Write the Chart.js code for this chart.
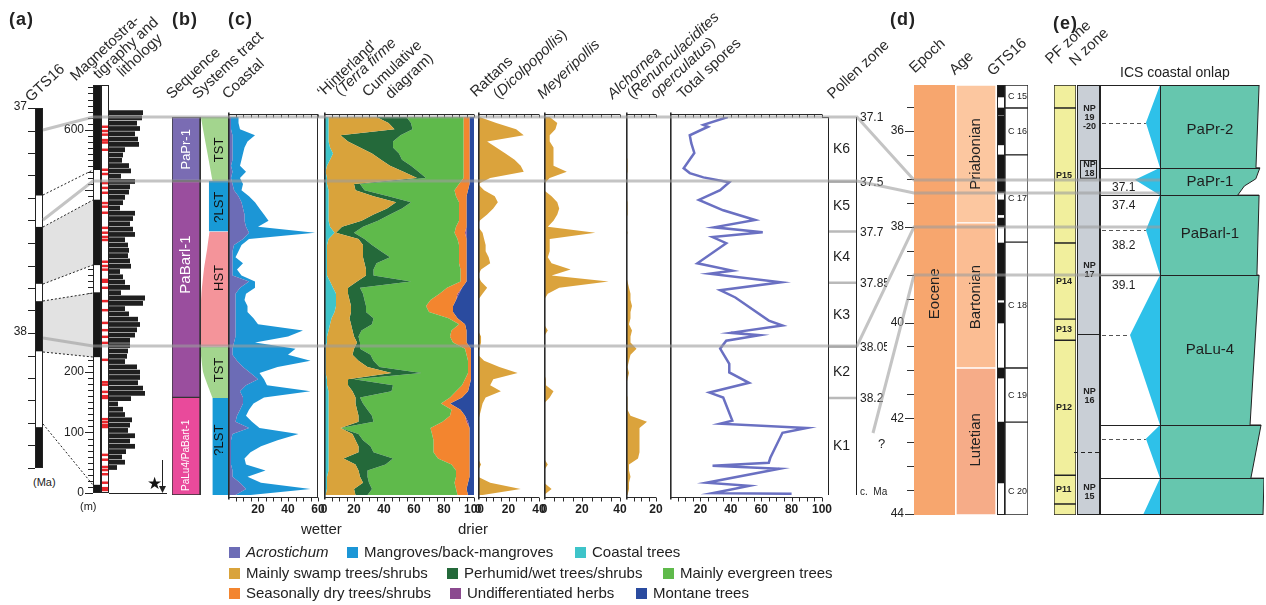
<!DOCTYPE html>
<html>
<head>
<meta charset="utf-8">
<title>Palynological record</title>
<script src="https://cdn.jsdelivr.net/npm/chart.js@4.4.1/dist/chart.umd.min.js"></script>
<style>
  html, body { margin: 0; padding: 0; background: #fff; }
  #stage { position: relative; width: 1266px; height: 605px; overflow: hidden; font-family: Arial, "Liberation Sans", sans-serif; color: #222; }
  #stage div { position: absolute; white-space: nowrap; color: #222; }
  .sw { display: inline-block; width: 11px; height: 11px; margin-right: 6px; vertical-align: -1px; }
</style>
</head>
<body>
<div id="stage">
<svg width="1266" height="605" style="position:absolute;left:0;top:0;z-index:5;pointer-events:none">
  <polygon points="43,227 93,200 93,265 43,284" fill="#e2e2e2"/>
  <polygon points="43,301 93,293 93,357 43,352" fill="#e2e2e2"/>
  <g stroke="#222" stroke-width="1" stroke-dasharray="2 2" fill="none">
    <line x1="43" y1="195" x2="93" y2="170"/>
    <line x1="43" y1="227" x2="93" y2="200"/>
    <line x1="43" y1="284" x2="93" y2="265"/>
    <line x1="43" y1="301" x2="93" y2="293"/>
    <line x1="43" y1="352" x2="93" y2="357"/>
    <line x1="43" y1="424" x2="93" y2="485"/>
  </g>
  <g stroke="#9c9c9c" stroke-opacity="0.6" stroke-width="3" fill="none">
    <polyline points="43,130 93,117 857,117 914,180 1160,180"/>
    <polyline points="43,220 93,181 857,181 914,193 1160,193"/>
    <polyline points="43,338 93,346 857,346 914,227 1160,227"/>
    <polyline points="873,433 914,275 1160,275"/>
  </g>
  <line x1="109" y1="493.5" x2="167" y2="493.5" stroke="#222" stroke-width="1"/>
  <line x1="162.5" y1="460" x2="162.5" y2="488" stroke="#222" stroke-width="1"/>
  <polygon points="159,486 166,486 162.5,493" fill="#222"/>
  <text x="147" y="489" font-size="17" fill="#111">★</text>
</svg>
</div>
<script>
// ---------------- panel (c): pollen diagram, depth in metres ----------------
const DEPTH = [620,610,600,590,580,570,560,550,540,530,520,510,500,490,480,470,460,450,440,430,420,410,400,390,380,370,360,350,340,330,320,310,300,290,280,270,260,250,240,230,220,210,200,190,180,170,160,150,140,130,120,110,100,90,80,70,60,50,40,30,20,10,0];

// Coastal (%)
const ACROSTICHUM = [2,2,2,3,3,3,3,3,2,3, 2,3,4,7,9,10,11,11,12,14, 10,4,3,3,3,3,3,14,8,5, 5,5,5,5,5,5,5,4,3,3, 6,10,15,20,12,8,10,10,8,6, 5,14,3,2,2,2,2,2,3,3, 8,12,5];
const MANGROVES   = [5,5,6,15,10,8,7,6,6,9, 6,7,5,7,9,11,13,16,8,44, 4,5,4,2,7,3,6,4,10,7, 6,8,8,12,15,45,35,14,42,37, 49,23,6,4,14,47,14,7,6,6, 11,7,44,31,20,13,9,10,22,10, 14,43,10];

// 'Hinterland' cumulative diagram (%)
const COASTAL_TREES = [3,3,3,3,3,4,6,4,2,1, 2,2,3,3,3,3,3,3,4,7, 3,2,2,2,2,2,2,4,6,8, 8,8,7,5,4,3,2,2,1,1, 1,1,1,2,2,3,3,3,3,3, 3,3,3,3,3,3,3,3,3,2, 2,2,1];
const SWAMP     = [32,40,44,8,13,20,26,34,42,52, 60,18,18,30,45,39,30,22,8,1, 20,24,24,24,25,26,26,18,10,8, 9,10,11,12,14,16,18,20,19,18, 22,28,44,14,14,16,18,18,19,20, 20,8,16,18,20,20,10,18,20,22, 24,18,20];
const PERHUMID  = [20,15,12,40,30,22,18,14,14,10, 6,4,6,10,10,10,11,11,14,12, 4,6,12,18,8,5,5,36,8,10, 10,10,10,16,14,6,3,2,4,12, 10,8,20,4,30,26,3,5,7,9, 10,0,4,5,8,10,33,20,6,5, 4,12,8];
const EVERGREEN = [38,35,34,42,47,47,43,41,35,30, 25,66,60,45,32,38,46,54,62,67, 62,58,52,46,55,58,58,33,58,51, 44,40,42,50,58,60,61,62,70,64, 63,59,31,74,46,43,60,52,56,52, 46,60,49,47,42,40,30,44,59,59, 57,56,60];
const SEASONAL  = [4,4,4,4,4,4,4,4,4,4, 4,7,9,7,5,5,5,5,7,7, 6,5,5,5,5,4,4,4,10,12, 17,18,16,6,4,10,11,9,4,3, 2,2,2,4,5,8,8,6,6,10, 16,26,25,24,24,24,21,12,9,9, 9,7,7];
const HERBS     = [0,0,0,0,0,0,0,0,0,0, 0,0,0,0,0,0,0,0,0,1, 0,0,0,0,0,0,0,0,0,1, 0,0,0,0,0,0,0,0,0,0, 0,0,0,0,0,0,0,0,0,0, 1,0,0,0,0,0,0,0,0,0, 0,0,0];
const MONTANE   = [3,3,3,3,3,3,3,3,3,3, 3,3,4,5,5,5,5,5,5,5, 5,5,5,5,5,5,5,5,8,10, 12,14,14,11,6,5,5,5,2,2, 2,2,2,2,3,4,8,16,9,6, 4,3,3,3,3,3,3,3,3,3, 4,5,4];

// single taxa (%)
const RATTANS      = [1,12,25,30,6,12,18,24,28,30, 8,0,4,11,13,10,6,1,0,3, 4,5,5,7,8,2,0,2,6,3, 0,0,0,0,0,0,2,2,1,0, 4,14,26,10,8,15,5,3,2,1, 0,0,0,0,0,0,0,2,0,0, 8,28,3];
const MEYERIPOLLIS = [3,7,6,3,3,5,5,5,5,12, 3,0,0,4,7,8,7,5,2,27, 3,3,3,2,4,14,4,34,8,2, 0,0,0,0,0,2,0,0,0,0, 0,0,0,1,1,5,3,0,0,0, 0,0,0,0,0,0,0,2,0,0, 0,4,0];
const ALCHORNEA    = [0,0,0,0,0,0,0,1,1,1, 0,0,0,0,1,1,1,0,0,1, 0,0,0,0,0,0,0,1,2,3, 3,4,3,3,2,4,3,3,7,3, 2,1,2,1,0,0,1,1,1,3, 14,9,9,9,9,9,8,2,2,3, 2,2,1];

// total spores (%), own sample depths
const SPORE_DEPTH = [620,607,604,590,577,561,536,528,521,513,500,484,467,451,439,431,423,413,380,368,363,349,336,324,286,278,266,262,253,240,215,201,184,168,160,122,117,110,102,61,53,48,43,20,15,3,2];
const SPORES      = [38,22,25,13,14,16,9,13,22,39,33,19,35,56,29,61,28,37,18,41,26,73,33,43,65,74,40,59,37,33,39,39,52,26,35,41,33,90,74,66,65,28,72,24,52,28,80];

// ---------------- panel (a) ----------------
const GTS_A_NORMAL = [[37.0,37.387],[37.53,37.78],[37.86,38.08],[38.42,38.6]];      // Ma
const MAG_NORMAL   = [[534,674],[377,484],[225,331],[0,13]];                        // m
const SAMPLE_DEPTH = [605,598,592,583,579,567,534,527,512,504,496,479,473,463,438,430,423,418,382,375,369,352,349,339,317,302,281,269,258,248,220,183,179,167,160,157,122,117,112,109,63,55,43,38,31,17,8,5];
const LITHO_DEPTH  = [670,660,650,640,630,620,610,600,590,580,570,560,550,540,530,520,510,500,490,480,470,460,450,440,430,420,410,400,390,380,370,360,350,340,330,320,310,300,290,280,270,260,250,240,230,220,210,200,190,180,170,160,150,140,130,120,110,100,90,80,70,60,50,40,30,20,10,0];
const LITHO        = [34,33,28,31,26,29,30,16,14,13,20,22,12,26,21,20,16,14,11,26,24,21,24,26,16,19,20,19,21,22,11,14,16,21,12,36,34,16,20,29,31,28,26,21,21,19,18,16,28,31,31,29,34,36,22,9,14,16,23,21,19,26,21,26,17,13,16,8];

// ---------------- panel (b) ----------------
const SEQ_NAMES = ['PaPr-1','PaBarl-1','PaLu4/PaBart-1'];
const SEQ_TOP   = [620,515,160];
const SEQ_BASE  = [515,160,0];
const TRACTS    = ['TST','?LST','HST','TST','?LST'];
const TRACT_EDGES = [                      // [depth, left edge of fill as column fraction]
  [[620,0.03],[515,0.45]],
  [[515,0.32],[432,0.32]],
  [[432,0.34],[405,0.26],[370,0.14],[330,0.05],[290,0.01],[243,0]],
  [[243,0],[200,0.12],[159,0.45]],
  [[159,0.45],[0,0.45]]
];
const TRACT_LABEL_DEPTH = [566,472,356,205,90];

// pollen zones
const ZONE_NAMES = ['K6','K5','K4','K3','K2','K1'];
const ZONE_TOP   = [620,514,432,348,243,159];
const ZONE_BASE  = [514,432,348,243,159,0];
const ZONE_AGE   = ['37.1','37.5','37.7','37.85','38.05','38.2'];

// ---------------- panel (d), ages in Ma ----------------
const AGE_NAMES = ['Priabonian','Bartonian','Lutetian'];
const AGE_TOP   = [35.04,37.92,40.95];
const AGE_BASE  = [37.92,40.95,44.02];
const POLARITY_NORMAL = [[35.04,35.29],[35.52,35.67],[35.69,36.29],[36.50,37.29],[37.44,37.75],[37.82,38.0],[38.34,39.53],[39.59,40.01],[40.95,41.16],[42.08,43.35]];
const CHRON_NAMES = ['C 15','C 16','C 17','C 18','C 19','C 20'];
const CHRON_TOP   = [35.04,35.52,36.50,38.32,40.95,42.08];
const CHRON_BASE  = [35.52,36.50,38.32,40.95,42.08,44.02];
const CHRON_LABEL_AGE = [35.29,36.01,37.41,39.64,41.52,43.54];

// ---------------- panel (e) ----------------
const PF_NAMES = ['','P15','P14','P13','P12','P11',''];
const PF_TOP   = [35.04,35.52,38.34,39.93,40.37,43.19,43.79];
const PF_BASE  = [35.52,38.34,39.93,40.37,43.19,43.79,44.02];
const NP_NAMES = ['NP\n19\n-20','NP\n18','NP\n17','NP\n16','NP\n15'];
const NP_TOP   = [35.04,36.61,36.98,40.24,42.71];
const NP_BASE  = [36.61,36.98,40.24,42.71,44.02];
const NP_LABEL_AGE = [35.72,36.79,38.9,41.53,43.55];
const ONLAP_AGE = [35.04,35.83,36.77,37.02,37.34,38.07,39.01,40.26,42.14,42.43,43.25,44.02];
const ONLAP_X   = [36.6,28,36.6,21.3,36.6,28,36.6,18.3,36.6,28,36.6,26.2];
const SHELF_AGE = [35.04,36.77,36.77,37.0,37.15,37.34,37.34,39.01,39.01,42.14,42.14,43.25,43.25,44.02];
const SHELF_X   = [97,95.1,97.5,95,88,84,97,95.7,97,91.5,98.2,92,100,99.4];
const CYCLE_BOUNDS = [36.77,37.34,39.01,42.14,43.25];
const CYCLE_NAMES = ['PaPr-2','PaPr-1','PaBarl-1','PaLu-4'];
const CYCLE_LABEL_AGE = [35.98,37.07,38.15,40.57];
const ONLAP_NOTES = ['37.1','37.4','38.2','39.1'];
const ONLAP_NOTE_AGE = [37.19,37.55,38.4,39.24];

const C = {
  acro: '#6c6cb6', mang: '#1c96d6', coast: '#3ec4c9', swamp: '#d9a33b', wet: '#24693a',
  ever: '#5fba4b', dry: '#f3852f', herbs: '#8b4a8f', mont: '#2a4b9f', taxon: '#dba33c', spores: '#6a70c2'
};

Chart.defaults.font.family = 'Arial, "Liberation Sans", sans-serif';
const stage = document.getElementById('stage');
const lin = (min, max, more) => Object.assign({type: 'linear', display: false, min, max}, more || {});

function mk(x, y, w, h, cfg, pad) {
  pad = Object.assign({l: 0, r: 0, t: 0, b: 0}, pad || {});
  const cv = document.createElement('canvas');
  const W = w + pad.l + pad.r, H = h + pad.t + pad.b;
  cv.width = W; cv.height = H;
  cv.style.position = 'absolute';
  cv.style.left = (x - pad.l) + 'px';
  cv.style.top = (y - pad.t) + 'px';
  stage.appendChild(cv);
  const o = cfg.options || (cfg.options = {});
  o.responsive = false;
  o.animation = false;
  o.events = [];
  o.layout = {padding: {left: pad.l, right: pad.r, top: pad.t, bottom: pad.b}};
  o.plugins = Object.assign({legend: {display: false}, tooltip: {enabled: false}}, o.plugins || {});
  return new Chart(cv, cfg);
}

function lab(html, x, y, css) {
  const d = document.createElement('div');
  d.innerHTML = html;
  d.style.cssText = 'left:' + x + 'px;top:' + y + 'px;' + (css || '');
  stage.appendChild(d);
  return d;
}

function multi(ctx, s, x, y, lh) {
  const lines = s.split('\n');
  lines.forEach((t, i) => ctx.fillText(t, x, y + (i - (lines.length - 1) / 2) * lh));
}

// axes of the pollen curves: top minor ticks, bottom ticks + labels, left axis
function pollenAxes(step, labels, right) {
  return {
    id: 'pollenAxes',
    afterDraw(ch) {
      const {ctx, chartArea: a} = ch, sx = ch.scales.x;
      const top = a.top - 2.5, bot = a.bottom + 2.5;
      ctx.save();
      ctx.strokeStyle = '#2a2a2a';
      ctx.lineWidth = 1;
      ctx.beginPath();
      ctx.moveTo(a.left, top); ctx.lineTo(a.right, top);
      ctx.moveTo(a.left, bot); ctx.lineTo(a.right, bot);
      for (let v = step; v <= sx.max + 1e-9; v += step) {
        const x = Math.round(sx.getPixelForValue(v)) + 0.5;
        ctx.moveTo(x, top); ctx.lineTo(x, top + 3);
        ctx.moveTo(x, bot); ctx.lineTo(x, bot + 4);
      }
      if (right) { ctx.moveTo(a.right - 0.5, top); ctx.lineTo(a.right - 0.5, bot); }
      ctx.stroke();
      ctx.lineWidth = 1.6;
      ctx.beginPath();
      ctx.moveTo(a.left + 0.8, top - 2); ctx.lineTo(a.left + 0.8, bot + 2);
      ctx.stroke();
      ctx.fillStyle = '#1e1e1e';
      ctx.font = 'bold 12px Arial';
      ctx.textAlign = 'center';
      ctx.textBaseline = 'middle';
      labels.forEach(v => ctx.fillText(String(v), sx.getPixelForValue(v), bot + 12));
      ctx.restore();
    }
  };
}

function areaPanel(x, w, max, series, labels, right) {
  const datasets = series.map((s, i) => ({
    label: s.name,
    data: DEPTH.map((d, k) => ({x: s.values[k], y: d})),
    backgroundColor: s.color, borderColor: s.color, borderWidth: 0,
    pointRadius: 0, tension: 0, fill: i === 0 ? 'origin' : '-1'
  }));
  return mk(x, 117, w, 378, {
    type: 'line',
    data: {datasets},
    options: {indexAxis: 'y', scales: {x: lin(0, max, {stacked: true}), y: lin(0, 620)}},
    plugins: [pollenAxes(5, labels, right)]
  }, {l: 8, r: 12, t: 6, b: 22});
}

const COASTAL_SERIES = [
  {name: 'Acrostichum', values: ACROSTICHUM, color: C.acro, italic: true},
  {name: 'Mangroves/back-mangroves', values: MANGROVES, color: C.mang}
];
const HINTER_SERIES = [
  {name: 'Coastal trees', values: COASTAL_TREES, color: C.coast},
  {name: 'Mainly swamp trees/shrubs', values: SWAMP, color: C.swamp},
  {name: 'Perhumid/wet trees/shrubs', values: PERHUMID, color: C.wet},
  {name: 'Mainly evergreen trees', values: EVERGREEN, color: C.ever},
  {name: 'Seasonally dry trees/shrubs', values: SEASONAL, color: C.dry},
  {name: 'Undifferentiated herbs', values: HERBS, color: C.herbs},
  {name: 'Montane trees', values: MONTANE, color: C.mont}
];

areaPanel(228, 90, 60, COASTAL_SERIES, [20, 40, 60], true);
areaPanel(324, 150, 100, HINTER_SERIES, [0, 20, 40, 60, 80, 100]);
areaPanel(478, 61, 40, [{name: 'Rattans', values: RATTANS, color: C.taxon}], [0, 20, 40]);
areaPanel(544, 76, 40, [{name: 'Meyeripollis', values: MEYERIPOLLIS, color: C.taxon}], [0, 20, 40]);
areaPanel(626, 30, 20, [{name: 'Alchornea', values: ALCHORNEA, color: C.taxon}], [20]);

mk(670, 117, 152, 378, {
  type: 'scatter',
  data: {datasets: [{label: 'Total spores', data: SPORE_DEPTH.map((d, i) => ({x: SPORES[i], y: d})),
    showLine: true, borderColor: C.spores, borderWidth: 2.5, pointRadius: 0, tension: 0}]},
  options: {scales: {x: lin(0, 100), y: lin(0, 620)}},
  plugins: [pollenAxes(5, [20, 40, 60, 80, 100])]
}, {l: 8, r: 12, t: 6, b: 22});

// ---------------- generic column of floating bars ----------------
function column(x, y, w, h, ymin, ymax, reverse, sets, deco, pad, labels) {
  const cats = labels || ['c'];
  return mk(x, y, w, h, {
    type: 'bar',
    data: {
      labels: cats,
      datasets: sets.map(s => ({
        data: s.segs.map(g => ({x: s.cat || cats[0], y: g})),
        backgroundColor: s.color, borderColor: s.border || s.color, borderWidth: s.bw || 0,
        borderSkipped: false, grouped: false, barPercentage: 1, categoryPercentage: 1
      }))
    },
    options: {scales: {x: {type: 'category', offset: true, display: false}, y: lin(ymin, ymax, {reverse})}},
    plugins: deco ? [deco] : []
  }, pad);
}

function outline(ctx, a) {
  ctx.strokeStyle = '#222'; ctx.lineWidth = 1;
  ctx.strokeRect(a.left + 0.5, a.top + 0.5, a.right - a.left - 1, a.bottom - a.top - 1);
}

function rotText(ctx, s, x, y, font, color) {
  ctx.save();
  ctx.translate(x, y); ctx.rotate(-Math.PI / 2);
  ctx.font = font; ctx.fillStyle = color; ctx.textAlign = 'center'; ctx.textBaseline = 'middle';
  ctx.fillText(s, 0, 0);
  ctx.restore();
}

// ---- (a) GTS16 column with age ticks ----
column(35, 108, 8, 360, 37.0, 38.6, true, [{segs: GTS_A_NORMAL, color: '#161616'}], {
  id: 'gtsA',
  afterDraw(ch) {
    const {ctx, chartArea: a} = ch, sy = ch.scales.y;
    ctx.save(); outline(ctx, a);
    ctx.beginPath();
    for (let k = 0; k <= 16; k++) {
      const yy = Math.round(sy.getPixelForValue(37 + k / 10)) + 0.5;
      ctx.moveTo(a.left - 7, yy); ctx.lineTo(a.left, yy);
    }
    ctx.stroke();
    ctx.font = '12px Arial'; ctx.fillStyle = '#222'; ctx.textAlign = 'right'; ctx.textBaseline = 'middle';
    [37, 38].forEach(v => ctx.fillText(String(v), a.left - 8, sy.getPixelForValue(v) - 1));
    ctx.restore();
  }
}, {l: 30, t: 8, b: 4});

// ---- (a) magnetostratigraphy + sample column with depth axis ----
column(93, 85, 16, 408, 0, 674, false, [
  {segs: MAG_NORMAL, color: '#161616', cat: 'mag'},
  {segs: SAMPLE_DEPTH.map(d => [d - 1.5, d + 1.5]), color: '#e8262b', cat: 'smp'}
], {
  id: 'lithAxis',
  afterDraw(ch) {
    const {ctx, chartArea: a} = ch, sy = ch.scales.y;
    const mid = (a.left + a.right) / 2;
    ctx.save();
    ctx.strokeStyle = '#222'; ctx.lineWidth = 1;
    ctx.strokeRect(a.left + 0.5, a.top + 0.5, mid - a.left - 1, a.bottom - a.top - 1);
    ctx.strokeRect(mid + 0.5, a.top + 0.5, a.right - mid - 1, a.bottom - a.top - 1);
    ctx.beginPath();
    for (let d = 0; d <= 670; d += 10) {
      const yy = Math.round(sy.getPixelForValue(d)) + 0.5;
      ctx.moveTo(a.left - (d % 100 === 0 ? 8 : 5), yy); ctx.lineTo(a.left, yy);
    }
    ctx.stroke();
    ctx.font = '12px Arial'; ctx.fillStyle = '#222'; ctx.textAlign = 'right'; ctx.textBaseline = 'middle';
    [0, 100, 200, 300, 400, 600].forEach(d => ctx.fillText(String(d), a.left - 9, sy.getPixelForValue(d)));
    ctx.restore();
  }
}, {l: 30, t: 2, b: 8}, ['mag', 'smp']);

// ---- (a) lithology log ----
mk(109, 85, 36, 408, {
  type: 'bar',
  data: {datasets: [{label: 'Lithology', data: LITHO_DEPTH.map((d, i) => ({x: LITHO[i], y: d})),
    backgroundColor: '#1f1f1f', barPercentage: 0.9, categoryPercentage: 1}]},
  options: {indexAxis: 'y', scales: {x: lin(0, 36), y: lin(0, 674)}}
});

// ---- (b) sequences ----
column(172, 117, 28, 378, 0, 620, false,
  [{segs: SEQ_TOP.map((t, i) => [SEQ_BASE[i], t]), color: ['#7a6cb3', '#9a4e9e', '#e94a9b'], border: '#333', bw: 1}], {
  id: 'seq',
  afterDraw(ch) {
    const {ctx, chartArea: a} = ch, sy = ch.scales.y;
    const fonts = ['13px Arial', '15px Arial', '10px Arial'];
    const at = [567, 378, 65];
    SEQ_NAMES.forEach((n, i) => rotText(ctx, n, (a.left + a.right) / 2, sy.getPixelForValue(at[i]), fonts[i], '#fff'));
  }
});

// ---- (b) systems tracts ----
mk(200, 117, 28, 378, {
  type: 'line',
  data: {datasets: TRACT_EDGES.map((e, i) => ({
    label: TRACTS[i], data: e.map(p => ({x: p[1], y: p[0]})),
    backgroundColor: ['#a3d58e', '#189ad6', '#f4949a', '#a3d58e', '#189ad6'][i],
    borderWidth: 0, pointRadius: 0, tension: 0.15, fill: {value: 1}
  }))},
  options: {indexAxis: 'y', scales: {x: lin(0, 1), y: lin(0, 620)}},
  plugins: [{
    id: 'tract',
    afterDraw(ch) {
      const {ctx, chartArea: a, scales: {x, y}} = ch;
      ctx.save();
      ctx.strokeStyle = '#333'; ctx.lineWidth = 1;
      ctx.beginPath(); ctx.moveTo(a.left + 0.5, a.top); ctx.lineTo(a.left + 0.5, a.bottom); ctx.stroke();
      TRACTS.forEach((t, i) => rotText(ctx, t, x.getPixelForValue(0.68), y.getPixelForValue(TRACT_LABEL_DEPTH[i]), '13px Arial', '#111'));
      ctx.restore();
    }
  }]
});

// ---- pollen zones ----
column(828, 117, 29, 378, 0, 620, false,
  [{segs: ZONE_TOP.map((t, i) => [ZONE_BASE[i], t]), color: '#fff'}], {
  id: 'zones',
  afterDraw(ch) {
    const {ctx, chartArea: a} = ch, sy = ch.scales.y;
    ctx.save();
    ctx.strokeStyle = '#b9b9b9'; ctx.lineWidth = 2.5;
    ctx.beginPath();
    ZONE_TOP.slice(1).forEach(d => { const yy = sy.getPixelForValue(d); ctx.moveTo(a.left, yy); ctx.lineTo(a.right, yy); });
    ctx.stroke();
    ctx.strokeStyle = '#222'; ctx.lineWidth = 1;
    ctx.beginPath();
    ctx.moveTo(a.left + 0.5, a.top); ctx.lineTo(a.left + 0.5, a.bottom);
    ctx.moveTo(a.right - 0.5, a.top); ctx.lineTo(a.right - 0.5, a.bottom);
    ctx.moveTo(a.left - 6, a.top + 0.5); ctx.lineTo(a.left, a.top + 0.5);
    ctx.stroke();
    ctx.fillStyle = '#1e1e1e'; ctx.textBaseline = 'middle';
    ctx.font = '14px Arial'; ctx.textAlign = 'center';
    ZONE_NAMES.forEach((n, i) => ctx.fillText(n, (a.left + a.right) / 2 - 1, sy.getPixelForValue((ZONE_TOP[i] + ZONE_BASE[i]) / 2)));
    ctx.font = '12px Arial'; ctx.textAlign = 'left';
    ZONE_AGE.forEach((s, i) => ctx.fillText(s, a.right + 3, sy.getPixelForValue(ZONE_TOP[i]) + 1));
    ctx.restore();
  }
}, {r: 30, t: 10, l: 8});

// ---------------- (d) chronostratigraphy ----------------
const AGE_Y = [85, 430];
column(914, AGE_Y[0], 41, AGE_Y[1], 35.04, 44.02, true, [{segs: [[35.04, 44.02]], color: '#f7a66e'}], {
  id: 'epoch',
  afterDraw(ch) {
    const {ctx, chartArea: a} = ch, sy = ch.scales.y;
    ctx.save();
    ctx.strokeStyle = '#333'; ctx.lineWidth = 1;
    ctx.beginPath();
    for (let v = 35.5; v <= 44.001; v += 0.5) {
      const yy = Math.round(sy.getPixelForValue(v)) + 0.5;
      ctx.moveTo(a.left - (v % 2 === 0 ? 9 : 7), yy); ctx.lineTo(a.left, yy);
    }
    ctx.stroke();
    ctx.font = '12px Arial'; ctx.fillStyle = '#222'; ctx.textAlign = 'right'; ctx.textBaseline = 'middle';
    [36, 38, 40, 42, 44].forEach(v => ctx.fillText(String(v), a.left - 10, sy.getPixelForValue(v)));
    rotText(ctx, 'Eocene', (a.left + a.right) / 2, sy.getPixelForValue(39.4), '15px Arial', '#222');
    ctx.restore();
  }
}, {l: 30, b: 6});

column(956, AGE_Y[0], 40, AGE_Y[1], 35.04, 44.02, true,
  [{segs: AGE_TOP.map((t, i) => [t, AGE_BASE[i]]), color: ['#fcc7a0', '#fbbd93', '#f6ac88'], border: '#fff', bw: 1}], {
  id: 'ageCol',
  afterDraw(ch) {
    const {ctx, chartArea: a} = ch, sy = ch.scales.y;
    const at = [36.48, 39.47, 42.45];
    AGE_NAMES.forEach((n, i) => rotText(ctx, n, (a.left + a.right) / 2, sy.getPixelForValue(at[i]), '15px Arial', '#222'));
  }
});

column(997, AGE_Y[0], 8, AGE_Y[1], 35.04, 44.02, true, [{segs: POLARITY_NORMAL, color: '#161616'}], {
  id: 'pol', afterDraw(ch) { ch.ctx.save(); outline(ch.ctx, ch.chartArea); ch.ctx.restore(); }
});

column(1005, AGE_Y[0], 23, AGE_Y[1], 35.04, 44.02, true,
  [{segs: CHRON_TOP.map((t, i) => [t, CHRON_BASE[i]]), color: '#fff', border: '#222', bw: 1}], {
  id: 'chron',
  afterDraw(ch) {
    const {ctx, chartArea: a} = ch, sy = ch.scales.y;
    ctx.save();
    ctx.font = '9px Arial'; ctx.fillStyle = '#222'; ctx.textAlign = 'center'; ctx.textBaseline = 'middle';
    CHRON_NAMES.forEach((n, i) => ctx.fillText(n, (a.left + a.right) / 2 + 1, sy.getPixelForValue(CHRON_LABEL_AGE[i])));
    ctx.restore();
  }
});

// ---------------- (e) biozones and coastal onlap ----------------
column(1054, AGE_Y[0], 22, AGE_Y[1], 35.04, 44.02, true,
  [{segs: PF_TOP.map((t, i) => [t, PF_BASE[i]]), color: '#f1ef9d', border: '#222', bw: 1}], {
  id: 'pf',
  afterDraw(ch) {
    const {ctx, chartArea: a} = ch, sy = ch.scales.y;
    ctx.save();
    ctx.font = 'bold 9px Arial'; ctx.fillStyle = '#222'; ctx.textAlign = 'left'; ctx.textBaseline = 'middle';
    PF_NAMES.forEach((n, i) => ctx.fillText(n, a.left + 2, sy.getPixelForValue((PF_TOP[i] + PF_BASE[i]) / 2)));
    ctx.restore();
  }
});

column(1077, AGE_Y[0], 23, AGE_Y[1], 35.04, 44.02, true,
  [{segs: NP_TOP.map((t, i) => [t, NP_BASE[i]]), color: '#c9cfd6'}], {
  id: 'np',
  afterDraw(ch) {
    const {ctx, chartArea: a} = ch, sy = ch.scales.y;
    ctx.save();
    outline(ctx, a);
    ctx.strokeRect(a.left + 3.5, Math.round(sy.getPixelForValue(NP_TOP[1])) + 0.5, a.right - a.left - 7, sy.getPixelForValue(NP_BASE[1]) - sy.getPixelForValue(NP_TOP[1]));
    ctx.beginPath();
    let yy = Math.round(sy.getPixelForValue(NP_TOP[3])) + 0.5;
    ctx.moveTo(a.left, yy); ctx.lineTo(a.right, yy); ctx.stroke();
    ctx.setLineDash([4, 3]);
    ctx.beginPath();
    yy = Math.round(sy.getPixelForValue(NP_TOP[4])) + 0.5;
    ctx.moveTo(a.left - 3, yy); ctx.lineTo(a.right, yy); ctx.stroke();
    ctx.setLineDash([]);
    ctx.font = 'bold 9px Arial'; ctx.fillStyle = '#222'; ctx.textAlign = 'center'; ctx.textBaseline = 'middle';
    NP_NAMES.forEach((n, i) => multi(ctx, n, (a.left + a.right) / 2 + 1, sy.getPixelForValue(NP_LABEL_AGE[i]), 9));
    ctx.restore();
  }
}, {l: 4});

mk(1100, AGE_Y[0], 164, AGE_Y[1], {
  type: 'line',
  data: {datasets: [
    {label: 'Shelf', data: SHELF_AGE.map((g, i) => ({x: SHELF_X[i], y: g})), backgroundColor: '#66c6ae',
      borderColor: '#222', borderWidth: 1, pointRadius: 0, tension: 0, fill: {value: 36.6}},
    {label: 'Onlap', data: ONLAP_AGE.map((g, i) => ({x: ONLAP_X[i], y: g})), backgroundColor: '#2ec1e9',
      borderWidth: 0, pointRadius: 0, tension: 0, fill: {value: 36.6}}
  ]},
  options: {indexAxis: 'y', scales: {x: lin(0, 100), y: lin(35.04, 44.02, {reverse: true})}},
  plugins: [{
    id: 'onlap',
    afterDraw(ch) {
      const {ctx, chartArea: a, scales: {x, y}} = ch;
      ctx.save();
      ctx.strokeStyle = '#222'; ctx.lineWidth = 1;
      const x0 = Math.round(x.getPixelForValue(36.6)) + 0.5;
      ctx.beginPath();
      ctx.moveTo(a.left + 0.5, a.top); ctx.lineTo(a.left + 0.5, a.bottom);
      ctx.moveTo(x0, a.top); ctx.lineTo(x0, a.bottom);
      ctx.moveTo(a.left, a.top + 0.5); ctx.lineTo(x.getPixelForValue(SHELF_X[0]), a.top + 0.5);
      ctx.moveTo(a.left, a.bottom - 0.5); ctx.lineTo(x.getPixelForValue(SHELF_X[SHELF_X.length - 1]), a.bottom - 0.5);
      CYCLE_BOUNDS.forEach(g => {
        const yy = Math.round(y.getPixelForValue(g)) + 0.5;
        let edge = 0;
        SHELF_AGE.forEach((s, i) => { if (s === g) edge = Math.max(edge, SHELF_X[i]); });
        ctx.moveTo(a.left, yy); ctx.lineTo(x.getPixelForValue(edge), yy);
      });
      ctx.stroke();
      ctx.strokeStyle = '#555'; ctx.setLineDash([4, 3]);
      ctx.beginPath();
      ONLAP_AGE.forEach((g, i) => {
        if (i % 2 === 1 && ONLAP_X[i] !== 21.3 && i < ONLAP_AGE.length - 1) {
          const yy = Math.round(y.getPixelForValue(g)) + 0.5;
          ctx.moveTo(a.left + 2, yy); ctx.lineTo(x.getPixelForValue(ONLAP_X[i]), yy);
        }
      });
      ctx.stroke();
      ctx.setLineDash([]);
      ctx.fillStyle = '#1e1e1e'; ctx.textBaseline = 'middle';
      ctx.font = '15px Arial'; ctx.textAlign = 'center';
      CYCLE_NAMES.forEach((n, i) => ctx.fillText(n, x.getPixelForValue(67), y.getPixelForValue(CYCLE_LABEL_AGE[i])));
      ctx.font = '12px Arial'; ctx.textAlign = 'left';
      ONLAP_NOTES.forEach((n, i) => ctx.fillText(n, x.getPixelForValue(7.3), y.getPixelForValue(ONLAP_NOTE_AGE[i])));
      ctx.restore();
    }
  }]
});

// ---------------- headers, notes, legend ----------------
const HEADS = [
  ['GTS16', 32, 104], ['Magnetostra-', 77, 83], ['tigraphy and', 100, 81], ['lithology', 124, 79],
  ['Sequence', 173, 101], ['Systems tract', 199, 101], ['Coastal', 229, 101],
  ['‘Hinterland’', 324, 99], ['(<i>Terra firme</i>', 342, 98], ['Cumulative', 369, 99], ['diagram)', 392, 101],
  ['Rattans', 477, 99], ['(<i>Dicolpopollis</i>)', 500, 101], ['<i>Meyeripollis</i>', 544, 101],
  ['<i>Alchornea</i>', 614, 101], ['(<i>Renunculacidites</i>', 634, 101], ['<i>operculatus</i>)', 657, 101],
  ['Total spores', 684, 101], ['Pollen zone', 834, 101], ['Epoch', 916, 75], ['Age', 956, 77], ['GTS16', 994, 78],
  ['PF zone', 1052, 66], ['N zone', 1076, 68]
];
HEADS.forEach(h => lab(h[0], h[1], h[2] - 15, 'font-size:15px;line-height:15px;color:#2a2a2a;transform-origin:0 100%;transform:rotate(-43deg)'));

[['(a)', 9, 9], ['(b)', 172, 9], ['(c)', 228, 9], ['(d)', 890, 9], ['(e)', 1053, 13]].forEach(p =>
  lab(p[0], p[1], p[2], 'font-size:18px;font-weight:bold;letter-spacing:1px'));

lab('ICS coastal onlap', 1120, 64, 'font-size:14px');
lab('(Ma)', 33, 476, 'font-size:11px');
lab('(m)', 80, 500, 'font-size:11px');
lab('?', 878, 436, 'font-size:13px');
lab('c.&nbsp;&nbsp;Ma', 860, 486, 'font-size:10px');
lab('wetter', 301, 520, 'font-size:15px');
lab('drier', 458, 520, 'font-size:15px');

const LEGEND_ROWS = [
  [COASTAL_SERIES[0], COASTAL_SERIES[1], HINTER_SERIES[0]],
  [HINTER_SERIES[1], HINTER_SERIES[2], HINTER_SERIES[3]],
  [HINTER_SERIES[4], HINTER_SERIES[5], HINTER_SERIES[6]]
];
const LEGEND_X = [[229, 347, 575], [229, 447, 663], [229, 450, 636]];
const LEGEND_Y = [544, 565, 585];
LEGEND_ROWS.forEach((row, r) => row.forEach((s, c) => {
  const name = s.italic ? '<i>' + s.name + '</i>' : s.name;
  lab('<span class="sw" style="background:' + s.color + '"></span>' + name, LEGEND_X[r][c], LEGEND_Y[r], 'font-size:15px;line-height:16px');
}));
</script>
</body>
</html>
